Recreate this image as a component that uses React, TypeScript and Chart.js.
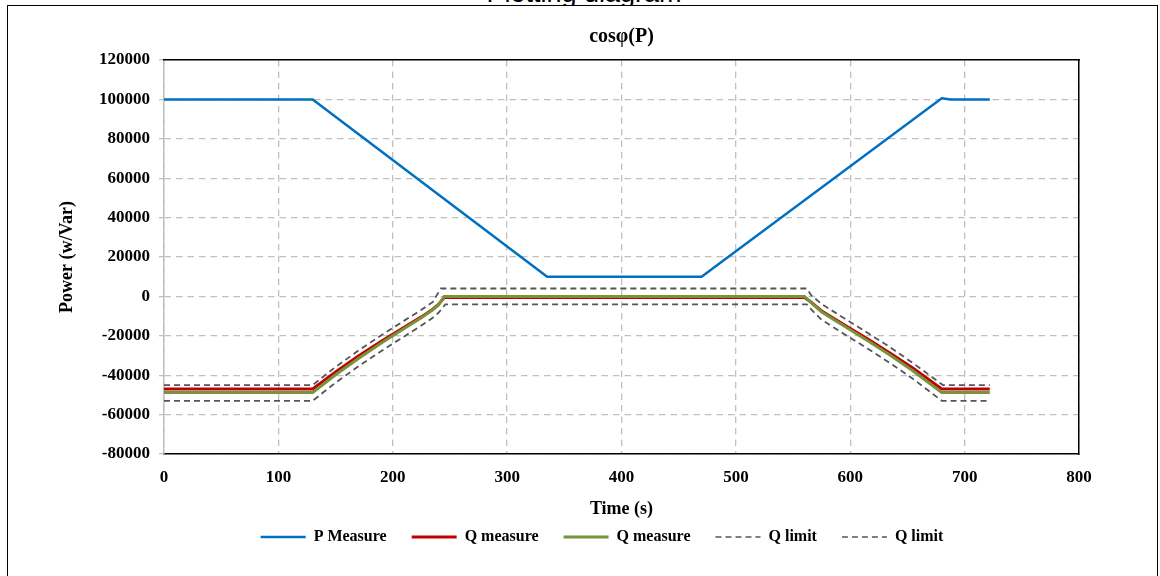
import React, { useEffect, useRef } from 'react';
import { Chart, registerables } from 'chart.js';

Chart.register(...registerables);

// ---- Data ----
const pTime = [0, 130, 335, 470, 680, 688, 722];
const pMeasure = [100000, 100000, 10000, 10000, 100600, 100000, 100000];

const qTime = [0, 130, 150, 170, 190, 210, 225, 235, 240, 245, 560, 565, 575, 595, 615, 635, 655, 680, 722];
const qMeasureRed = [-47000, -47000, -38400, -30300, -22800, -15700, -10400, -6500, -4100, -600, -600, -2600, -7400, -14500, -21500, -28800, -36500, -47000, -47000];
const qMeasureGreen = [-48800, -48800, -39800, -31500, -23700, -16300, -10800, -6800, -4300, 0, 0, -2800, -7900, -15200, -22400, -29900, -37900, -48800, -48800];

const upperLimitTime = [0, 130, 150, 170, 190, 210, 225, 235, 242, 562, 566, 575, 595, 615, 635, 655, 681, 722];
const qLimitUpper = [-45000, -45000, -35800, -27500, -19700, -12300, -6800, -2800, 4000, 4000, 500, -3900, -11200, -18400, -25900, -33900, -45000, -45000];

const lowerLimitTime = [0, 130, 150, 170, 190, 210, 225, 235, 240, 246, 562, 566, 575, 595, 615, 635, 655, 680, 722];
const qLimitLower = [-53000, -53000, -43800, -35500, -27700, -20300, -14800, -10800, -8300, -4000, -4000, -6700, -11900, -19200, -26400, -33900, -41900, -53000, -53000];

const seriesLabels = ['P Measure', 'Q measure', 'Q measure', 'Q limit', 'Q limit'];
const xMin = 0, xMax = 800, xStep = 100;
const yMin = -80000, yMax = 120000, yStep = 20000;

const toPoints = (xs: number[], ys: number[]) => xs.map((x, i) => ({ x, y: ys[i] }));

export default function App() {
  const canvasRef = useRef<HTMLCanvasElement>(null);

  useEffect(() => {
    const canvas = canvasRef.current;
    if (!canvas) return;
    const serif = "'Liberation Serif', 'Times New Roman', serif";
    Chart.defaults.font.family = serif;
    Chart.defaults.color = '#000';

    const gridColor = '#c0c0c0';
    const defaultGen = (Chart.defaults as any).plugins.legend.labels.generateLabels;
    const chart = new Chart(canvas, {
      type: 'line',
      data: {
        datasets: [
          { label: seriesLabels[0], data: toPoints(pTime, pMeasure), borderColor: '#0070C0', backgroundColor: '#0070C0', borderWidth: 2.5, pointRadius: 0, order: 0, xAxisID: 'x', yAxisID: 'y' },
          { label: seriesLabels[1], data: toPoints(qTime, qMeasureRed), borderColor: '#C00000', backgroundColor: '#C00000', borderWidth: 3, pointRadius: 0, order: 2, xAxisID: 'x', yAxisID: 'y' },
          { label: seriesLabels[2], data: toPoints(qTime, qMeasureGreen), borderColor: '#77933C', backgroundColor: '#77933C', borderWidth: 3, pointRadius: 0, order: 1, xAxisID: 'x', yAxisID: 'y' },
          { label: seriesLabels[3], data: toPoints(upperLimitTime, qLimitUpper), borderColor: '#555555', backgroundColor: '#555555', borderWidth: 1.8, borderDash: [6, 4], pointRadius: 0, order: 3, xAxisID: 'x', yAxisID: 'y' },
          { label: seriesLabels[4], data: toPoints(lowerLimitTime, qLimitLower), borderColor: '#555555', backgroundColor: '#555555', borderWidth: 1.8, borderDash: [6, 4], pointRadius: 0, order: 4, xAxisID: 'x', yAxisID: 'y' },
        ],
      },
      options: {
        responsive: false,
        animation: false,
        layout: { padding: { left: 40, right: 0, top: 0, bottom: 21 } },
        plugins: {
          tooltip: { enabled: false },
          title: {
            display: true,
            text: 'cosφ(P)',
            fullSize: false,
            color: '#000',
            font: { family: serif, size: 20, weight: 'bold' },
            padding: { top: 19, bottom: 11 },
          },
          legend: {
            position: 'bottom',
            labels: {
              usePointStyle: true,
              pointStyle: 'line',
              pointStyleWidth: 45,
              padding: 25,
              color: '#000',
              font: { family: serif, size: 16, weight: 'bold' },
              sort: (a: any, b: any) => a.datasetIndex - b.datasetIndex,
              generateLabels: (ch: any) => {
                const items = defaultGen(ch);
                return items.map((it: any) => {
                  const ds = ch.data.datasets[it.datasetIndex];
                  return {
                    ...it,
                    lineDash: ds.borderDash || [],
                    lineWidth: ds.borderDash ? 1.5 : ds.borderWidth,
                    strokeStyle: ds.borderColor,
                    fillStyle: ds.borderColor,
                  };
                });
              },
            },
          },
        },
        scales: {
          x: {
            type: 'linear',
            position: 'bottom',
            min: xMin,
            max: xMax,
            ticks: { stepSize: xStep, padding: 13, color: '#000', font: { family: serif, size: 17, weight: 'bold' } },
            grid: { color: gridColor, lineWidth: 1.3, drawTicks: false },
            border: { display: true, color: '#000', width: 1.5, dash: [6.5, 5] },
            title: { display: true, text: 'Time (s)', color: '#000', font: { family: serif, size: 18, weight: 'bold' }, padding: { top: 0, bottom: -16 } },
            afterFit: (s: any) => { s.height = 50; },
          },
          y: {
            type: 'linear',
            position: 'left',
            min: yMin,
            max: yMax,
            ticks: { stepSize: yStep, padding: 9, color: '#000', font: { family: serif, size: 17, weight: 'bold' }, callback: (v: any) => String(v) },
            grid: { color: gridColor, lineWidth: 1.3, drawTicks: true, tickLength: 5, tickColor: '#bfbfbf', tickWidth: 1.3, tickBorderDash: [] },
            border: { display: true, color: '#bfbfbf', width: 1.5, dash: [6.5, 5] },
            title: { display: true, text: 'Power (w/Var)', color: '#000', font: { family: serif, size: 18, weight: 'bold' }, padding: { top: 9, bottom: 0 } },
            afterFit: (s: any) => { s.width = 116; },
          },
          x2: {
            type: 'linear',
            position: 'top',
            min: xMin,
            max: xMax,
            grid: { display: false, drawTicks: false },
            ticks: { display: false },
            border: { display: true, color: '#000', width: 1.5 },
            afterFit: (s: any) => { s.height = 0; },
          },
          y2: {
            type: 'linear',
            position: 'right',
            min: yMin,
            max: yMax,
            grid: { display: false, drawTicks: false },
            ticks: { display: false },
            border: { display: true, color: '#000', width: 1.5 },
            afterFit: (s: any) => { s.width = 77; },
          },
        },
      } as any,
    });
    return () => chart.destroy();
  }, []);

  return (
    <div style={{ position: 'fixed', left: 0, top: 0, width: 1160, height: 576, overflow: 'hidden', background: '#fff' }}>
      <div style={{ position: 'absolute', left: 0, top: -20, width: 1168, textAlign: 'center', fontFamily: "'Liberation Sans', Arial, sans-serif", fontSize: 27, lineHeight: '27px', color: '#000' }}>
        Plotting diagram
      </div>
      <div style={{ position: 'absolute', left: 7, top: 5, width: 1149, height: 600, border: '1px solid #000', background: '#fff' }} />
      <canvas ref={canvasRef} width={1148} height={570} style={{ position: 'absolute', left: 8, top: 6, display: 'block' }} />
    </div>
  );
}
